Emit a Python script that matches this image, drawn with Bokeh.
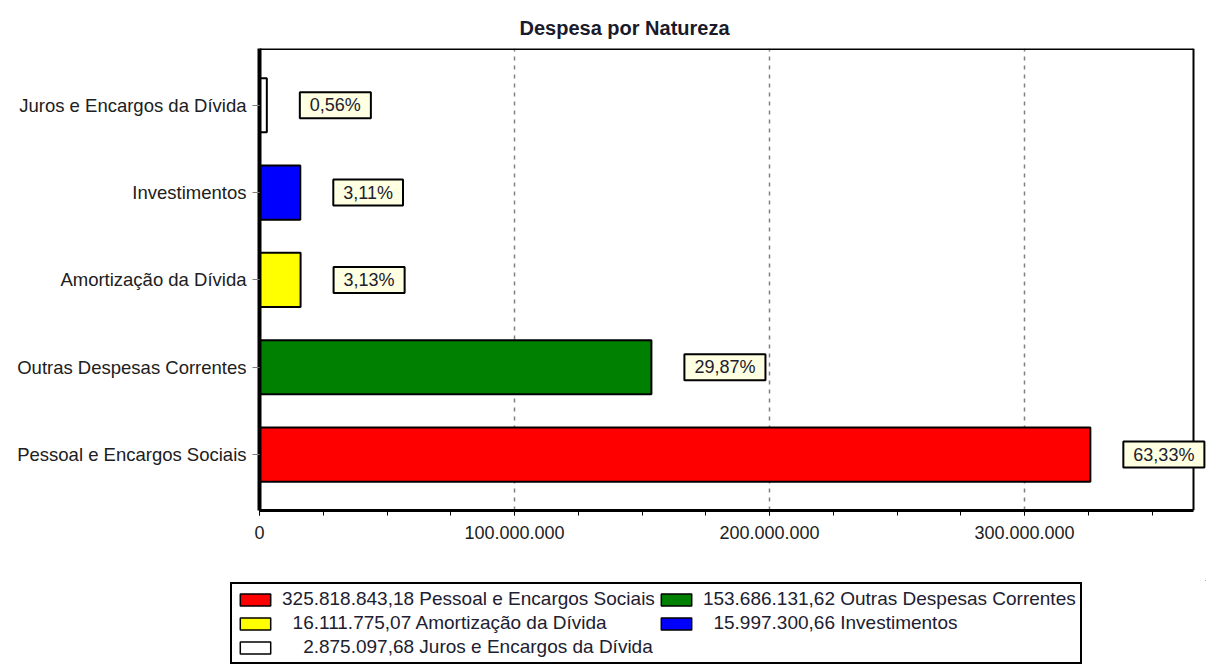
from bokeh.plotting import figure
from bokeh.layouts import column
from bokeh.models import (ColumnDataSource, Range1d, FixedTicker, Legend, LegendItem,
                          Label, Span)
from bokeh.embed import file_html
from bokeh.resources import INLINE

# ---- data (bottom to top) ----
categories = ["Pessoal e Encargos Sociais", "Outras Despesas Correntes",
              "Amortização da Dívida", "Investimentos", "Juros e Encargos da Dívida"]
values = [325818843.18, 153686131.62, 16111775.07, 15997300.66, 2875097.68]
pct_labels = ["63,33%", "29,87%", "3,13%", "3,11%", "0,56%"]
colors = ["#ff0000", "#008000", "#ffff00", "#0000ff", "#ffffff"]
x_ticks = [0, 100000000, 200000000, 300000000]
x_minor = [25000000 * i for i in range(15)]
title_text = "Despesa por Natureza"

FONT = "Liberation Sans"
X_AXIS_END = 366270000      # where the plotted box ends
X_VIEW_END = 371370000      # a little room to the right for the last label
Y_LO, Y_HI = -0.64, 4.65


def br(v, dec=2):
    s = f"{v:,.{dec}f}"
    return s.replace(",", "X").replace(".", ",").replace("X", ".")


ys = list(range(len(categories)))
src = ColumnDataSource(dict(y=ys, v=values, c=colors))

p = figure(width=1206, height=580, output_backend="svg", toolbar_location=None,
           x_range=Range1d(0, X_VIEW_END), y_range=Range1d(Y_LO, Y_HI),
           min_border_left=259, min_border_right=0, min_border_top=48,
           min_border_bottom=70)
p.frame_align = False

p.title.text = title_text
p.title.align = "left"
p.title.offset = 260
p.title.text_font = FONT
p.title.text_font_size = "20px"
p.title.text_font_style = "bold"
p.title.text_color = "#1a1a2a"
p.title.standoff = 19

p.outline_line_color = None

# frame: top and right edges
p.segment(x0=[0], x1=[X_AXIS_END], y0=[Y_HI], y1=[Y_HI], line_color="black", line_width=3)
p.add_layout(Span(location=X_AXIS_END, dimension="height", line_color="black", line_width=2))

bars = p.hbar(y="y", left=0, right="v", height=0.62, fill_color="c",
              line_color="black", line_width=2, source=src)

# x axis
xa = p.xaxis[0]
xa.bounds = (0, X_AXIS_END)
xa.ticker = FixedTicker(ticks=x_ticks, minor_ticks=x_minor)
xa.major_label_overrides = {t: br(t, 0) for t in x_ticks}
xa.axis_line_color = "black"
xa.axis_line_width = 3
xa.major_tick_out = 5
xa.major_tick_in = 0
xa.minor_tick_out = 5
xa.minor_tick_in = 0
xa.major_tick_line_color = "black"
xa.minor_tick_line_color = "black"
xa.major_label_standoff = 10
xa.major_label_text_font = FONT
xa.major_label_text_font_size = "18px"
xa.major_label_text_color = "#202020"

# y axis
ya = p.yaxis[0]
ya.ticker = FixedTicker(ticks=ys, minor_ticks=[])
ya.major_label_overrides = {i: c for i, c in zip(ys, categories)}
ya.axis_line_color = "black"
ya.axis_line_width = 4
ya.major_tick_out = 7
ya.major_tick_in = 0
ya.major_tick_line_color = "#808080"
ya.minor_tick_line_color = None
ya.major_label_standoff = 6
ya.major_label_text_font = FONT
ya.major_label_text_font_size = "18.5px"
ya.major_label_text_color = "#202020"

# grid
p.ygrid.grid_line_color = None
p.xgrid.ticker = FixedTicker(ticks=[t for t in x_ticks if t > 0])
p.xgrid.grid_line_color = "#808080"
p.xgrid.grid_line_dash = "4 5"
p.xgrid.grid_line_width = 1.5

# percentage labels with shadow
pad = dict(left=10, right=10, top=3, bottom=3)
for y, v, t in zip(ys, values, pct_labels):
    shadow = Label(x=v, y=y, text=t, x_offset=33 + 3, y_offset=-3, text_align="left",
                   text_baseline="middle", text_font=FONT, text_font_size="18px",
                   text_alpha=0, padding=pad, background_fill_color="#8a8a8a",
                   border_line_color=None)
    lab = Label(x=v, y=y, text=t, x_offset=33, y_offset=0, text_align="left",
                text_baseline="middle", text_font=FONT, text_font_size="18px",
                text_color="#202030", padding=pad, background_fill_color="#ffffe1",
                border_line_color="black", border_line_width=2)
    p.add_layout(shadow)
    p.add_layout(lab)

# legend strip below the chart
p2 = figure(width=1206, height=84, output_backend="svg", toolbar_location=None,
            x_range=Range1d(-10, -5), y_range=Range1d(-10, -5),
            x_axis_location=None, y_axis_location=None,
            min_border_left=0, min_border_right=0, min_border_top=0,
            min_border_bottom=0)
p2.frame_align = False
p2.outline_line_color = None
p2.grid.grid_line_color = None
lbars = p2.hbar(y="y", left=0, right="v", height=0.62, fill_color="c",
                line_color="black", line_width=1.5, source=src)

nums = [br(v) for v in values]
w = max(len(n) for n in nums)
items = []
for i, (n, c) in enumerate(zip(nums, categories)):
    lbl = "\u2007" * (w - len(n)) + n + " " + c
    items.append(LegendItem(label=lbl, renderers=[lbars], index=i))

legend = Legend(items=items, orientation="horizontal", ncols=2,
                location=(230, 0), label_text_font=FONT,
                label_text_font_size="19px", label_text_color="#202030",
                glyph_width=38, glyph_height=15, label_height=18,
                label_standoff=8, spacing=2, padding=4, margin=0,
                border_line_color="black", border_line_alpha=1, border_line_width=2,
                background_fill_color="white", background_fill_alpha=1)
p2.add_layout(legend, "center")

layout = column(p, p2, spacing=0)
open("out.html", "w").write(file_html(layout, INLINE))
